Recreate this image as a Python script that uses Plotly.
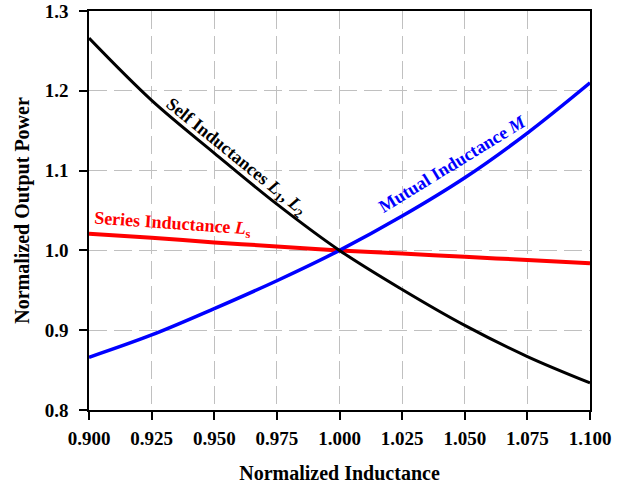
import plotly.graph_objects as go

x_vals = [0.900, 0.925, 0.950, 0.975, 1.000, 1.025, 1.050, 1.075, 1.100]
self_ind = [1.266, 1.188, 1.122, 1.058, 1.000, 0.951, 0.906, 0.867, 0.834]
mutual_ind = [0.866, 0.894, 0.927, 0.962, 1.000, 1.043, 1.091, 1.147, 1.210]
series_ind = [1.021, 1.016, 1.010, 1.005, 1.000, 0.996, 0.992, 0.988, 0.984]

x_ticks = [0.900, 0.925, 0.950, 0.975, 1.000, 1.025, 1.050, 1.075, 1.100]
x_tick_labels = ["0.900", "0.925", "0.950", "0.975", "1.000", "1.025", "1.050", "1.075", "1.100"]
y_ticks = [0.8, 0.9, 1.0, 1.1, 1.2, 1.3]
y_tick_labels = ["0.8", "0.9", "1.0", "1.1", "1.2", "1.3"]

FONT = "Liberation Serif"

fig = go.Figure()
fig.add_trace(go.Scatter(x=x_vals, y=series_ind, mode="lines",
                         line=dict(color="#ff0000", width=4, shape="spline"), showlegend=False))
fig.add_trace(go.Scatter(x=x_vals, y=mutual_ind, mode="lines",
                         line=dict(color="#0000ff", width=3.5, shape="spline"), showlegend=False))
fig.add_trace(go.Scatter(x=x_vals, y=self_ind, mode="lines",
                         line=dict(color="#000000", width=3, shape="spline"), showlegend=False))

ann_font = dict(family=FONT, size=18)
fig.add_annotation(x=0.9585, y=1.116, text="<b>Self Inductances <i>L</i><sub>1</sub>, <i>L</i><sub>2</sub></b>",
                   showarrow=False, textangle=39, font=dict(ann_font, color="black"))
fig.add_annotation(x=1.045, y=1.108, text="<b>Mutual Inductance <i>M</i></b>",
                   showarrow=False, textangle=-31.5, font=dict(ann_font, color="#0000ff"))
fig.add_annotation(x=0.9335, y=1.032, text="<b>Series Inductance <i>L</i><sub>s</sub></b>",
                   showarrow=False, textangle=4, font=dict(ann_font, color="#ff0000"))

axis_common = dict(
    showline=True, linecolor="black", linewidth=1.5, mirror=True,
    ticks="outside", ticklen=8, tickcolor="black", tickwidth=1.5,
    showgrid=True, gridcolor="#c0c0c0", gridwidth=1.2, griddash="18px,7px",
    zeroline=False, automargin=False,
    tickfont=dict(family=FONT, size=19, color="black"),
)

fig.update_xaxes(range=[0.9, 1.1], tickvals=x_ticks, ticktext=[f"<b>{t}</b>" for t in x_tick_labels],
                 ticklabelstandoff=2,
                 title=dict(text="<b>Normalized Inductance</b>", font=dict(family=FONT, size=20, color="black"),
                            standoff=18),
                 **axis_common)
fig.update_yaxes(range=[0.8, 1.3], tickvals=y_ticks, ticktext=[f"<b>{t}</b>" for t in y_tick_labels],
                 ticklabelstandoff=7,
                 title=dict(text="<b>Normalized Output Power</b>", font=dict(family=FONT, size=20, color="black"),
                            standoff=10),
                 **axis_common)

fig.update_layout(width=626, height=489, margin=dict(l=89, r=36, t=11, b=79),
                  plot_bgcolor="white", paper_bgcolor="white", font=dict(family=FONT))

fig.write_html("out.html")
